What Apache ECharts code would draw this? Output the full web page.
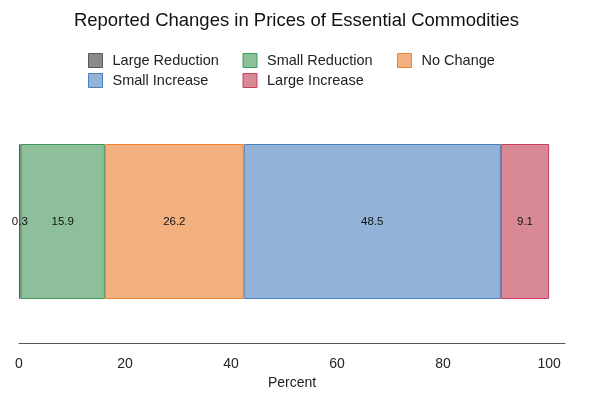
<!DOCTYPE html>
<html><head><meta charset="utf-8">
<script src="https://cdn.jsdelivr.net/npm/echarts@6/dist/echarts.min.js"></script>
<style>html,body{margin:0;padding:0;background:#fff}#c{width:593px;height:395px}</style>
</head><body><div id="c"></div>
<script>
const categories = [''];
const seriesNames = ['Large Reduction','Small Reduction','No Change','Small Increase','Large Increase'];
const largeReduction = [0.3];
const smallReduction = [15.9];
const noChange = [26.2];
const smallIncrease = [48.5];
const largeIncrease = [9.1];
const xTicks = [0,20,40,60,80,100];

const fills = ['#8a8a8a','#8dbf9b','#f3b07f','#92b3d7','#d98994'];
const borders = ['#5a5a5a','#3f9a5a','#ef8330','#4a80c0','#cc4060'];
const values = [largeReduction, smallReduction, noChange, smallIncrease, largeIncrease];

const chart = echarts.init(document.getElementById('c'));
chart.setOption({
  animation:false,
  backgroundColor:'#fff',
  textStyle:{fontFamily:'Liberation Sans, Arial, sans-serif'},
  title:{text:'Reported Changes in Prices of Essential Commodities',left:'center',top:6,
    textStyle:{fontSize:18.5,fontWeight:'normal',color:'#111',fontFamily:'Liberation Sans, Arial, sans-serif'}},
  legend:{left:88,top:53,width:470,padding:0,itemWidth:14,itemHeight:14,itemGap:5,
    icon:'rect',
    textStyle:{fontSize:14.5,color:'#222',width:125,padding:[0,0,0,5],lineHeight:14},
    itemStyle:{borderWidth:1},
    data:seriesNames},
  grid:{left:19,right:28,top:100,bottom:52},
  xAxis:{type:'value',min:0,max:103,interval:20,
    name:'Percent',nameLocation:'middle',nameGap:33,
    nameTextStyle:{fontSize:14,color:'#222'},
    axisLine:{show:true,lineStyle:{color:'#555',width:1}},
    axisTick:{show:false},splitLine:{show:false},
    axisLabel:{fontSize:14,color:'#222',margin:14,showMaxLabel:false,
      formatter:v=> xTicks.includes(v)?String(v):''}},
  yAxis:{type:'category',data:categories,show:false},
  series: seriesNames.map((n,i)=>({
    name:n,type:'bar',stack:'t',barWidth:155,data:values[i],
    itemStyle:{color:fills[i],borderColor:borders[i],borderWidth:1},
    label:{show:true,position:'inside',color:'#111',fontSize:11.5,formatter:p=>p.value.toFixed(1)}
  }))
});
</script></body></html>
